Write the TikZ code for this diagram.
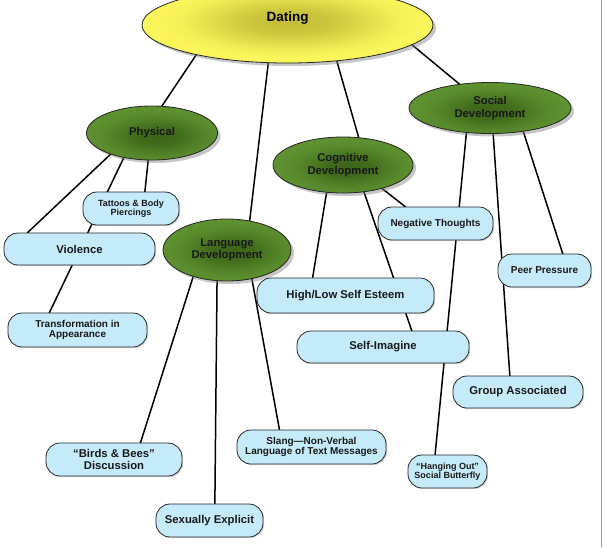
\documentclass[tikz,border=0pt]{standalone}
\usepackage{fontspec}
\setmainfont{Liberation Sans}
\usetikzlibrary{shapes.geometric,shadows,backgrounds}

\definecolor{dateyellow}{HTML}{F9F55A}
\definecolor{dateglow}{HTML}{C4BE38}
\definecolor{leafgreen}{HTML}{5E9130}
\definecolor{leafglow}{HTML}{3C6418}
\definecolor{boxblue}{HTML}{C5EBFA}

% soft glows behind the ellipse labels
\pgfdeclareradialshading{yellowglow}{\pgfpoint{0bp}{0bp}}{color(0bp)=(dateglow); color(7bp)=(dateglow!85!dateyellow);
    color(13bp)=(dateglow!45!dateyellow); color(18bp)=(dateglow!12!dateyellow); color(22bp)=(dateyellow); color(50bp)=(dateyellow)}
\pgfdeclareradialshading{greenglow}{\pgfpoint{0bp}{0bp}}{color(0bp)=(leafglow); color(7bp)=(leafglow!85!leafgreen);
    color(13bp)=(leafglow!45!leafgreen); color(19bp)=(leafglow!12!leafgreen); color(24bp)=(leafgreen); color(50bp)=(leafgreen)}

\begin{document}
\begin{tikzpicture}[x=1pt,y=-1pt,
    core/.style={ellipse, draw=black!85, line width=0.8pt, fill=dateyellow,
        inner sep=0pt, outer sep=0pt, minimum width=291, minimum height=76,
        font=\bfseries\fontsize{13.5}{15}\selectfont, text height=9.5pt, text depth=17.5pt,
        drop shadow={shadow xshift=3pt, shadow yshift=-3pt, opacity=.45},
        path picture={\shade[shading=yellowglow]
            ([xshift=5pt,yshift=7pt]path picture bounding box.center) ellipse [x radius=145pt, y radius=38pt];}},
    topic/.style={ellipse, draw=black!85, line width=0.8pt, fill=leafgreen,
        inner sep=0pt, outer sep=0pt, align=center, text=black!90,
        font=\bfseries\fontsize{11.3}{12.5}\selectfont,
        drop shadow={shadow xshift=3pt, shadow yshift=-3pt, opacity=.45},
        path picture={\shade[shading=greenglow]
            ([xshift=5pt,yshift=-3pt]path picture bounding box.center) ellipse [x radius=75pt, y radius=30pt];}},
    leaf/.style={rectangle, rounded corners=14pt, draw=black!85, line width=0.8pt,
        fill=boxblue, inner sep=0pt, outer sep=0pt, align=center, text=black!90,
        font=\bfseries\fontsize{11.3}{12}\selectfont,
        drop shadow={shadow xshift=1.2pt, shadow yshift=-1.2pt, opacity=.3}},
    leafmd/.style={leaf, font=\bfseries\fontsize{10}{10.8}\selectfont},
    leafsm/.style={leaf, font=\bfseries\fontsize{9}{9.2}\selectfont},
    link/.style={line width=1.5pt, black}]

    \useasboundingbox (0,0) rectangle (603,547);

    % --- central topic ---
    \node[core] (dating) at (287.5,25) {Dating};

    % --- the four areas ---
    \node[topic, minimum width=131, minimum height=54] (phys) at (152,133) {Physical};
    \node[topic, minimum width=128, minimum height=62] (lang) at (227,250) {Language\\Development};
    \node[topic, minimum width=140, minimum height=56] (cog) at (343,165) {Cognitive\\Development};
    \node[topic, minimum width=162, minimum height=51] (soc) at (490,108) {Social\\Development};

    % --- physical ---
    \node[leafsm, minimum width=96, minimum height=33] (tattoo) at (131,208.5) {Tattoos \& Body\\Piercings};
    \node[leaf, minimum width=151, minimum height=32] (viol) at (79.5,249) {Violence};
    \node[leafmd, minimum width=139, minimum height=34] (trans) at (77.5,330) {Transformation in\\Appearance};

    % --- language ---
    \node[leaf, minimum width=136, minimum height=33] (birds) at (114,459.5) {“Birds \& Bees”\\Discussion};
    \node[leaf, minimum width=107, minimum height=33] (sex) at (209.5,520.5) {Sexually Explicit};
    \node[leafmd, minimum width=149, minimum height=34] (slang) at (311.5,447) {Slang—Non-Verbal\\Language of Text Messages};

    % --- cognitive ---
    \node[leafmd, minimum width=115, minimum height=33] (neg) at (435.5,223.5) {Negative Thoughts};
    \node[leaf, minimum width=177, minimum height=35] (esteem) at (345.5,295.5) {High/Low Self Esteem};
    \node[leaf, minimum width=172, minimum height=32] (image) at (383,347) {Self-Imagine};

    % --- social ---
    \node[leafmd, minimum width=93, minimum height=33] (peer) at (544.5,270.5) {Peer Pressure};
    \node[leaf, minimum width=130, minimum height=32] (group) at (518,392) {Group Associated};
    \node[leafsm, minimum width=79, minimum height=33] (hang) at (447.5,471.5) {“Hanging Out”\\Social Butterfly};

    % --- connectors, kept behind the nodes ---
    \begin{scope}[on background layer]
        \draw[link] (dating.-162) -- (phys.70);
        \draw[link] (dating.-117) -- (lang.52);
        \draw[link] (dating.-36) -- (cog.60);
        \draw[link] (dating.-9) -- (soc.142);

        \draw[link] (phys.-153) -- (viol.163);
        \draw[link] (phys.-139) -- (trans.149);
        \draw[link] (phys.-98) -- (tattoo.50);

        \draw[link] (lang.-142) -- (birds.32);
        \draw[link] (lang.-108) -- (sex.72);
        \draw[link] (lang.-49) -- (slang.152);

        \draw[link] (cog.-121) -- (esteem.152);
        \draw[link] (cog.-52) -- (image.29);
        \draw[link] (cog.-31) -- (neg.151);

        \draw[link] (soc.-134) -- (hang.127);
        \draw[link] (soc.-83) -- (group.117);
        \draw[link] (soc.-35) -- (peer.42);
    \end{scope}

    % right frame edge
    \draw[gray!75, line width=1pt] (601.5,0) -- (601.5,547);

\end{tikzpicture}
\end{document}
